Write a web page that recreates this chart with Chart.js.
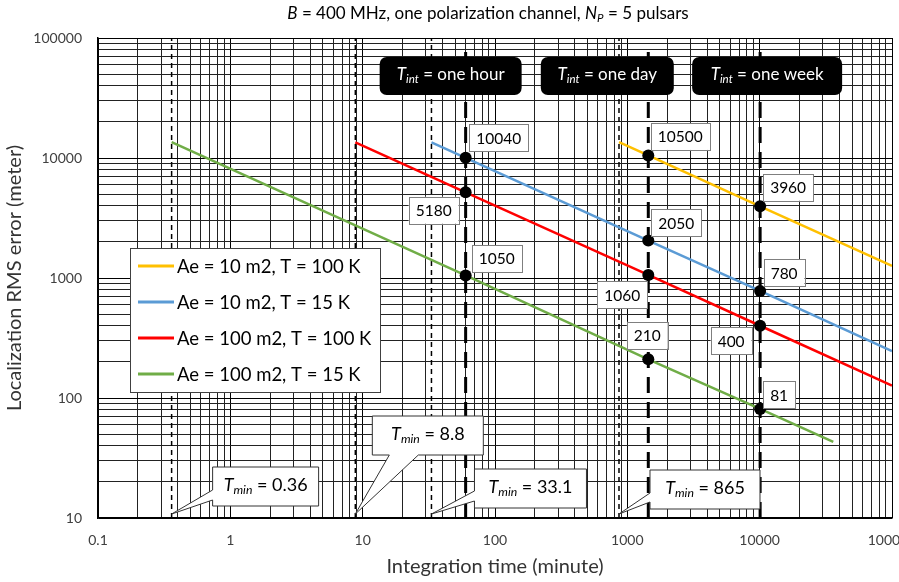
<!DOCTYPE html>
<html lang="en">
<head>
<meta charset="UTF-8" />
<title>Localization RMS error vs integration time</title>
<script src="https://cdn.jsdelivr.net/npm/chart.js"></script>
<style>
  body { margin: 0; background: #fff; }
  #box { width: 899px; height: 582px; }
</style>
</head>
<body>
<div id="box"><canvas id="grafico"></canvas></div>
<script>
// values: integration time (minute) -> error (meter)
const seriesNames = ["Ae = 10 m2, T = 100 K", "Ae = 10 m2, T = 15 K", "Ae = 100 m2, T = 100 K", "Ae = 100 m2, T = 15 K"];
const seriesColors = ["#FFC000", "#5B9BD5", "#FF0000", "#70AD47"];

const yellowT = [865, 1440, 10080, 100000];
const yellowE = [13550, 10500, 3960, 1260];
const blueT = [33.1, 60, 1440, 10080, 100000];
const blueE = [13500, 10040, 2050, 780, 246];
const redT = [8.8, 60, 1440, 10080, 100000];
const redE = [13500, 5180, 1060, 400, 127];
const greenT = [0.36, 60, 1440, 10080, 36000];
const greenE = [13550, 1050, 210, 81, 43];

const tMin = [0.36, 8.8, 33.1, 865];
const tMinLabels = ["0.36", "8.8", "33.1", "865"];
const tInt = [60, 1440, 10080];
const tIntLabels = ["one hour", "one day", "one week"];
const tIntTop = 85000;

const markT = [60, 60, 60, 1440, 1440, 1440, 1440, 10080, 10080, 10080, 10080];
const markE = [10040, 5180, 1050, 10500, 2050, 1060, 210, 3960, 780, 400, 81];

const xTicks = [0.1, 1, 10, 100, 1000, 10000, 100000];
const yTicks = [10, 100, 1000, 10000, 100000];

const FONT = "Lato, sans-serif";
Chart.defaults.font.family = FONT;

// 1..9 in every decade, for the grid
function withMinor(majors) {
  const out = [];
  for (let i = 0; i < majors.length - 1; i++) {
    for (let k = 1; k <= 9; k++) out.push(+(majors[i] * k).toPrecision(6));
  }
  out.push(majors[majors.length - 1]);
  return out;
}

const pts = (xs, ys) => xs.map((x, i) => ({ x: x, y: ys[i] }));

// text with italic / subscript pieces
function drawRich(ctx, runs, x, y, size, color) {
  const fontOf = (s) => (s === "n" ? "" : "italic ") + (s === "s" ? size * 0.68 : size) + "px " + FONT;
  let w = 0;
  runs.forEach(([t, s]) => { ctx.font = fontOf(s); w += ctx.measureText(t).width; });
  let cx = x - w / 2;
  ctx.fillStyle = color;
  ctx.textAlign = "left";
  ctx.textBaseline = "middle";
  runs.forEach(([t, s]) => {
    ctx.font = fontOf(s);
    ctx.fillText(t, cx, s === "s" ? y + size * 0.28 : y);
    cx += ctx.measureText(t).width;
  });
}

const datasets = [];
datasets.push({
  label: "marks", data: pts(markT, markE), showLine: false,
  pointRadius: 6, pointBackgroundColor: "#000", pointBorderWidth: 0, order: 0,
});
const sT = [yellowT, blueT, redT, greenT];
const sE = [yellowE, blueE, redE, greenE];
seriesNames.forEach((n, i) => {
  datasets.push({
    label: n, data: pts(sT[i], sE[i]), showLine: true, pointRadius: 0,
    borderColor: seriesColors[i], backgroundColor: seriesColors[i], borderWidth: 2.5, order: 1,
  });
});
tMin.forEach((t) => {
  datasets.push({
    label: "tmin", data: [{ x: t, y: 10 }, { x: t, y: 100000 }], showLine: true, pointRadius: 0,
    borderColor: "#000", borderWidth: 1.5, borderDash: [5, 4], order: 2,
  });
});
tInt.forEach((t) => {
  datasets.push({
    label: "tint", data: [{ x: t, y: 10 }, { x: t, y: tIntTop }], showLine: true, pointRadius: 0,
    borderColor: "#000", borderWidth: 3, borderDash: [16, 9], order: 2,
  });
});

// label boxes next to the marks, offset of box centre from the point
const markLabelOffset = [[33, -20], [-32, 18], [31, -17], [32, -19], [28, -18], [-26, 20], [-1, -24], [28, -19], [24, -18], [-29, 15], [19, -14]];
// black boxes: centre offset from the line, width
const tIntBox = [[-15, 142], [-41, 133], [7, 150]];
// callouts: rect relative to tip, wedge base [a, b], side
const tMinBox = [
  { r: [41, -47, 147, -8], w: [-24, -14], side: "left" },
  { r: [17, -98, 128, -59], w: [34, 63], side: "bottom" },
  { r: [43, -45, 155, -6], w: [-23, -13], side: "left" },
  { r: [31, -44, 141, -5], w: [-21, -12], side: "left" },
];

const decorPlugin = {
  id: "decor",
  afterDatasetsDraw(chart) {
    const ctx = chart.ctx;
    const xs = chart.scales.x, ys = chart.scales.y;
    const area = chart.chartArea;
    ctx.save();

    // T_min callouts
    tMin.forEach((t, i) => {
      const tx = xs.getPixelForValue(t), ty = ys.getPixelForValue(10) - 4;
      const b = tMinBox[i];
      const x0 = tx + b.r[0], y0 = ty + b.r[1], x1 = tx + b.r[2], y1 = ty + b.r[3];
      ctx.beginPath();
      if (b.side === "left") {
        ctx.moveTo(x0, y0); ctx.lineTo(x1, y0); ctx.lineTo(x1, y1); ctx.lineTo(x0, y1);
        ctx.lineTo(x0, ty + b.w[1]); ctx.lineTo(tx, ty); ctx.lineTo(x0, ty + b.w[0]);
      } else {
        ctx.moveTo(x0, y0); ctx.lineTo(x1, y0); ctx.lineTo(x1, y1);
        ctx.lineTo(tx + b.w[1], y1); ctx.lineTo(tx, ty); ctx.lineTo(tx + b.w[0], y1); ctx.lineTo(x0, y1);
      }
      ctx.closePath();
      ctx.fillStyle = "#fff"; ctx.fill();
      ctx.strokeStyle = "#333"; ctx.lineWidth = 1; ctx.stroke();
      drawRich(ctx, [["T", "i"], ["min", "s"], [" = " + tMinLabels[i], "n"]], (x0 + x1) / 2, (y0 + y1) / 2 - 1, 18, "#000");
    });

    // T_int black boxes
    tInt.forEach((t, i) => {
      const cx = xs.getPixelForValue(t) + tIntBox[i][0], w = tIntBox[i][1];
      ctx.beginPath();
      ctx.roundRect(cx - w / 2, area.top + 19, w, 38, 7);
      ctx.fillStyle = "#000"; ctx.fill();
      drawRich(ctx, [["T", "i"], ["int", "s"], [" = " + tIntLabels[i], "n"]], cx, area.top + 37, 17, "#fff");
    });

    // value labels
    markT.forEach((t, i) => {
      const px = xs.getPixelForValue(t) + markLabelOffset[i][0];
      const py = ys.getPixelForValue(markE[i]) + markLabelOffset[i][1];
      const txt = String(markE[i]);
      ctx.font = "15.5px " + FONT;
      const w = ctx.measureText(txt).width + 14;
      ctx.fillStyle = "#fff";
      ctx.fillRect(px - w / 2, py - 13.5, w, 27);
      ctx.strokeStyle = "#7f7f7f"; ctx.lineWidth = 1;
      ctx.strokeRect(Math.round(px - w / 2) + 0.5, Math.round(py - 13.5) + 0.5, Math.round(w), 27);
      ctx.fillStyle = "#000"; ctx.textAlign = "center"; ctx.textBaseline = "middle";
      ctx.fillText(txt, px, py + 1);
    });

    // legend
    const lx = area.left + 32, ly = 248;
    ctx.fillStyle = "#fff";
    ctx.fillRect(lx, ly, 250, 144);
    ctx.strokeStyle = "#404040"; ctx.lineWidth = 1;
    ctx.strokeRect(lx + 0.5, ly + 0.5, 250, 144);
    seriesNames.forEach((n, i) => {
      const y = ly + 18 + i * 36;
      ctx.strokeStyle = seriesColors[i]; ctx.lineWidth = 3;
      ctx.beginPath(); ctx.moveTo(lx + 8, y); ctx.lineTo(lx + 44, y); ctx.stroke();
      ctx.fillStyle = "#000"; ctx.font = "18.5px " + FONT;
      ctx.textAlign = "left"; ctx.textBaseline = "middle";
      ctx.fillText(n, lx + 47, y + 1);
    });

    // title
    drawRich(ctx, [["B", "i"], [" = 400 MHz, one polarization channel, ", "n"], ["N", "i"], ["P", "s"], [" = 5 pulsars", "n"]], 488, 14, 17, "#000");
    ctx.restore();
  },
};

const xAll = withMinor(xTicks), yAll = withMinor(yTicks);

new Chart(document.getElementById("grafico"), {
  type: "scatter",
  data: { datasets: datasets },
  options: {
    responsive: true,
    maintainAspectRatio: false,
    animation: false,
    events: [],
    layout: { padding: { top: 38, right: 7, left: 0, bottom: 0 } },
    plugins: { legend: { display: false }, tooltip: { enabled: false } },
    scales: {
      x: {
        type: "logarithmic", min: 0.1, max: 100000,
        afterBuildTicks: (s) => { s.ticks = xAll.map((v) => ({ value: v, major: xTicks.includes(v) })); },
        afterFit: (s) => { s.height = 64; s.paddingLeft = 0; s.paddingRight = 0; },
        ticks: {
          autoSkip: false, maxRotation: 0, padding: 14, color: "#404040", font: { size: 14 },
          callback: (v) => (xTicks.includes(v) ? String(v) : ""),
        },
        grid: {
          drawTicks: false, lineWidth: 1,
          color: (c) => (c.tick && c.tick.major ? "#000" : "#222"),
        },
        border: { display: true, color: "#000", width: 1.5 },
        title: { display: true, text: "Integration time (minute)", color: "#333", font: { size: 20 }, padding: { top: 0, bottom: 3 } },
      },
      y: {
        type: "logarithmic", min: 10, max: 100000,
        afterBuildTicks: (s) => { s.ticks = yAll.map((v) => ({ value: v, major: yTicks.includes(v) })); },
        afterFit: (s) => { s.width = 98; s.paddingTop = 0; s.paddingBottom = 0; },
        ticks: {
          autoSkip: false, padding: 16, color: "#404040", font: { size: 14 },
          callback: (v) => (yTicks.includes(v) ? String(v) : ""),
        },
        grid: {
          drawTicks: false, lineWidth: 1,
          color: (c) => (c.tick && c.tick.major ? "#000" : "#222"),
        },
        border: { display: true, color: "#000", width: 1.5 },
        title: { display: true, text: "Localization RMS error (meter)", color: "#333", font: { size: 20 }, padding: { top: 3, bottom: 0 } },
      },
    },
  },
  plugins: [decorPlugin],
});
</script>
</body>
</html>
